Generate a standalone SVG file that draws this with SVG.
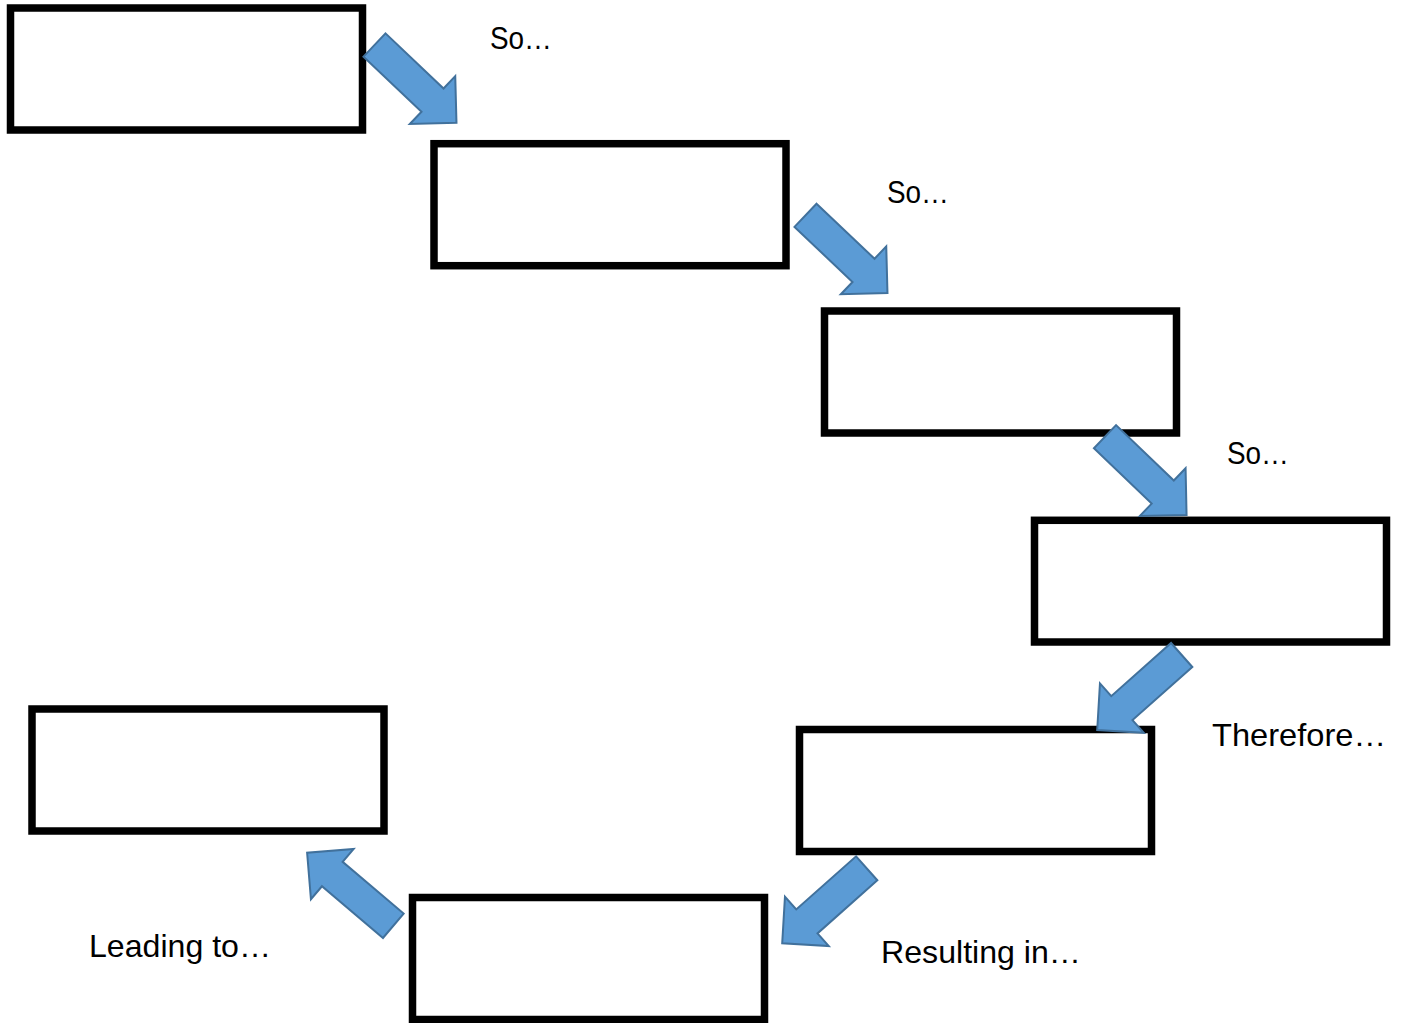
<svg xmlns="http://www.w3.org/2000/svg" width="1402" height="1023" viewBox="0 0 1402 1023">
<defs>
<style>
.box{fill:#fff;stroke:#000;stroke-width:7.5;stroke-linejoin:miter}
.arr{fill:#5b9bd5;stroke:#41719c;stroke-width:2;stroke-linejoin:miter}
.lbl{font-family:"Liberation Sans",Arial,sans-serif;font-size:32px;fill:#000}
</style>
<polygon id="arrowShape" class="arr" points="0,-16 80,-16 80,-33 113,0 80,33 80,16 0,16"/>
</defs>
<rect width="1402" height="1023" fill="#fff"/>
<g id="box1"><rect class="box" x="10.5" y="8" width="352" height="122"/></g>
<g id="box2"><rect class="box" x="434" y="143.7" width="352" height="122"/></g>
<g id="box3"><rect class="box" x="824.5" y="311" width="352" height="122"/></g>
<g id="box4"><rect class="box" x="1034.5" y="520.3" width="352" height="121.7"/></g>
<g id="box5"><rect class="box" x="799.5" y="729.5" width="352" height="122"/></g>
<g id="box6"><rect class="box" x="32" y="709" width="352" height="122"/></g>
<g id="box7"><rect class="box" x="412.5" y="897.5" width="352" height="122"/></g>
<g id="connectors">
<use href="#arrowShape" transform="translate(374.5,45) rotate(43.5)"/>
<use href="#arrowShape" transform="translate(805.5,215.3) rotate(43.5)"/>
<use href="#arrowShape" transform="translate(1105,436.7) rotate(43.8)"/>
<use href="#arrowShape" transform="translate(1181.7,655) rotate(138.4)"/>
<use href="#arrowShape" transform="translate(866.7,868.3) rotate(138.4)"/>
<use href="#arrowShape" transform="translate(393.3,925.8) rotate(220.3)"/>
</g>
<g id="labels">
<text class="lbl" x="490" y="49" textLength="62" lengthAdjust="spacingAndGlyphs">So…</text>
<text class="lbl" x="887" y="203" textLength="62" lengthAdjust="spacingAndGlyphs">So…</text>
<text class="lbl" x="1227" y="464" textLength="62" lengthAdjust="spacingAndGlyphs">So…</text>
<text class="lbl" x="1212" y="746" textLength="174" lengthAdjust="spacingAndGlyphs">Therefore…</text>
<text class="lbl" x="89" y="957" textLength="182" lengthAdjust="spacingAndGlyphs">Leading to…</text>
<text class="lbl" x="881" y="963" textLength="200" lengthAdjust="spacingAndGlyphs">Resulting in…</text>
</g>
</svg>
